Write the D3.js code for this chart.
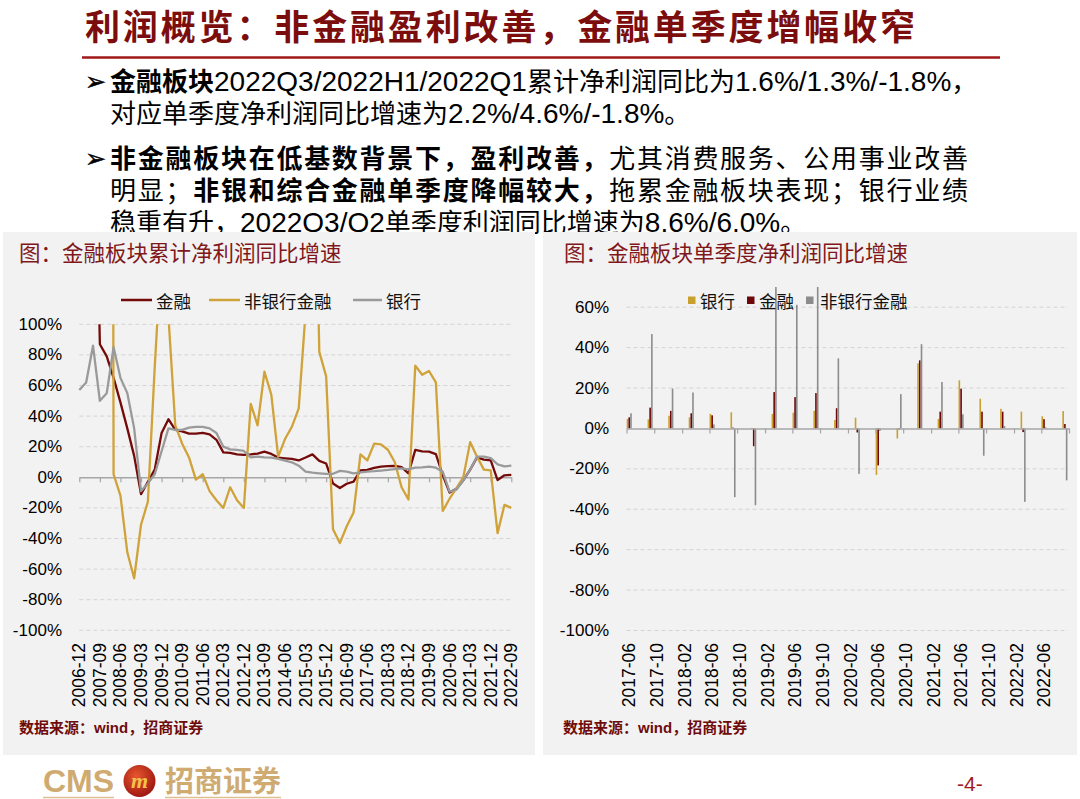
<!DOCTYPE html>
<html><head><meta charset="utf-8">
<script src="https://cdn.jsdelivr.net/npm/d3@7/dist/d3.min.js"></script>
<style>body{margin:0;background:#fff;}svg{display:block;}</style>
</head><body>
<svg id="chart" width="1080" height="799"></svg>
<script>
// ---------------- data ----------------
const headline = '利润概览：非金融盈利改善，金融单季度增幅收窄';
const leftTitle = '图：金融板块累计净利润同比增速';
const rightTitle = '图：金融板块单季度净利润同比增速';
const sourceText = '数据来源：wind，招商证券';

const quarters = ['2006-12','2007-03','2007-06','2007-09','2007-12','2008-03','2008-06','2008-09','2008-12','2009-03','2009-06','2009-09','2009-12','2010-03','2010-06','2010-09','2010-12','2011-03','2011-06','2011-09','2011-12','2012-03','2012-06','2012-09','2012-12','2013-03','2013-06','2013-09','2013-12','2014-03','2014-06','2014-09','2014-12','2015-03','2015-06','2015-09','2015-12','2016-03','2016-06','2016-09','2016-12','2017-03','2017-06','2017-09','2017-12','2018-03','2018-06','2018-09','2018-12','2019-03','2019-06','2019-09','2019-12','2020-03','2020-06','2020-09','2020-12','2021-03','2021-06','2021-09','2021-12','2022-03','2022-06','2022-09'];
const finCum = [180,220,300,87,79,65,49,32,14,-11,-3,5,29,38,31,30,28.5,28.5,29,28,24.5,16.3,16,15,14.6,15,15.5,16.8,15.3,12.9,12.4,12,11,12.9,15,10.7,9,-4,-7,-4.2,-2.8,4.5,4.8,6.2,7,7.3,7.4,6.7,2.6,17.9,17,16.8,15.2,1.5,-10,-7.5,-2,5,13,11.5,11,-1.8,1.3,1.6];
const nonbankCum = [600,900,1200,1500,2500,2,-12,-49,-66,-31,-16,72,150,105,34,22,13,-1.5,2,-9,-15,-20,-6.5,-15,-20,48,34,69,54,13.5,25,33,45,108,300,82,66,-34,-43,-32,-23,15,11,22,21.5,18,10,-6.5,-14.5,73,67,69.5,62,-22,-14,-7,0,23,13.5,5,4.5,-36.5,-18,-20];
const bankCum = [57,62,86,50,55,85,65,55,32,-9,-4,2,17,32,31,31,32.5,33,33,32,29,20,18.3,17.9,17.2,13,13.5,13,12.9,12,10.9,9.8,7.6,3.7,3,2.6,2.2,2.3,4.2,3.7,2.6,3.2,3.7,4,4.4,4.8,5.4,5.9,5.2,6.3,6.5,7,6.3,3.7,-9.4,-8,-2,5,13.5,13.5,12.5,8.5,7.2,7.6];
const leftTickLabels = ['2006-12','2007-09','2008-06','2009-03','2009-12','2010-09','2011-06','2012-03','2012-12','2013-09','2014-06','2015-03','2015-12','2016-09','2017-06','2018-03','2018-12','2019-09','2020-06','2021-03','2021-12','2022-09'];
const leftYTicks = [100,80,60,40,20,0,-20,-40,-60,-80,-100];
const leftSeriesNames = ['金融','非银行金融','银行'];

const barQuarters = ['2017-06','2017-09','2017-12','2018-03','2018-06','2018-09','2018-12','2019-03','2019-06','2019-09','2019-12','2020-03','2020-06','2020-09','2020-12','2021-03','2021-06','2021-09','2021-12','2022-03','2022-06','2022-09'];
const bankQ = [4.7,4.5,6.3,5.5,7.2,8.0,0.3,7.2,7.8,8.7,4.2,5.3,-23.0,-5.0,32.2,4.7,23.8,14.7,9.7,8.3,6.0,8.6];
const finQ = [5.5,10.3,8.7,7.5,6.5,0.4,-8.8,18.0,15.5,17.5,10.0,-2.0,-18.3,-0.5,33.7,8.3,19.7,8.3,8.3,-1.8,4.6,2.2];
const nonbankQ = [7.5,46.7,19.8,17.8,2.0,-34.0,-38.0,95,61.2,100,34.7,-22.5,-1.2,17.0,41.7,23.0,7.0,-13.5,1.2,-36.3,0.5,-25.7];
const rightTickLabels = ['2017-06','2017-10','2018-02','2018-06','2018-10','2019-02','2019-06','2019-10','2020-02','2020-06','2020-10','2021-02','2021-06','2021-10','2022-02','2022-06'];
const rightYTicks = [60,40,20,0,-20,-40,-60,-80,-100];
const rightSeriesNames = ['银行','金融','非银行金融'];

const bullets = [
  {y:81, segs:[{t:'金融板块',b:1},{t:'2022Q3/2022H1/2022Q1累计净利润同比为1.6%/1.3%/-1.8%，',b:0}], mark:true},
  {y:113, segs:[{t:'对应单季度净利润同比增速为2.2%/4.6%/-1.8%。',b:0}]},
  {y:158, segs:[{t:'非金融板块在低基数背景下，盈利改善，',b:1},{t:'尤其消费服务、公用事业改善',b:0}], mark:true, right:968},
  {y:190, segs:[{t:'明显；',b:0},{t:'非银和综合金融单季度降幅较大，',b:1},{t:'拖累金融板块表现；银行业绩',b:0}], right:968},
  {y:222, segs:[{t:'稳重有升，2022Q3/Q2单季度利润同比增速为8.6%/6.0%。',b:0}]}
];

// ---------------- styles ----------------
const CJK = "'Noto Sans CJK SC', sans-serif";
const MIX = "'Liberation Sans', 'Noto Sans CJK SC', sans-serif";
const C_RED = '#750a0a', C_GOLD = '#d0a23a', C_GREY = '#9a9a9a';
const C_BAR_GOLD = '#c99f2e', C_BAR_RED = '#6e0808', C_BAR_GREY = '#8c8c8c';
const svg = d3.select('#chart');

// headline
svg.append('text').attr('x',85).attr('y',40)
  .attr('font-family',CJK).attr('font-weight',700).attr('font-size',35)
  .attr('fill','#7b0d0d').attr('textLength',830).attr('lengthAdjust','spacing').text(headline);
svg.append('line').attr('x1',82).attr('x2',1000).attr('y1',57.5).attr('y2',57.5)
  .attr('stroke','#a01818').attr('stroke-width',2.5);

// bullet text
function runs(s){ return s.match(/[\x00-\x7F]+|[^\x00-\x7F]+/g); }
bullets.forEach(L=>{
  if(L.mark) svg.append('text').attr('x',85).attr('y',L.y+9).attr('font-family',"'DejaVu Sans'")
     .attr('font-size',25).attr('fill','#000').attr('stroke','#000').attr('stroke-width',0.5).text('➢');
  const t = svg.append('text').attr('x',110).attr('y',L.y+10).attr('font-family',MIX).attr('fill','#000');
  L.segs.forEach(s=>runs(s.t).forEach(r=>{
    const latin = /^[\x00-\x7F]+$/.test(r);
    t.append('tspan').attr('font-weight',s.b?700:400).attr('font-size',latin?28:26).text(r);
  }));
  if(L.right){
    const w = t.node().getComputedTextLength();
    const n = L.segs.map(s=>s.t).join('').length;
    t.attr('letter-spacing',(L.right-110-w)/(n-1));
  }
});

// panels
svg.append('rect').attr('x',3).attr('y',232).attr('width',532).attr('height',523).attr('fill','#f2f2f2');
svg.append('rect').attr('x',543).attr('y',232).attr('width',534).attr('height',523).attr('fill','#f2f2f2');

function panelTitle(x, s){
  svg.append('text').attr('x',x).attr('y',261).attr('font-family',CJK).attr('font-size',21.5)
    .attr('fill','#80171a').text(s);
}
panelTitle(19,leftTitle); panelTitle(564,rightTitle);
function source(x){
  svg.append('text').attr('x',x).attr('y',733).attr('font-family',MIX).attr('font-weight',700)
    .attr('font-size',15).attr('fill','#6e0b0b').text(sourceText);
}
source(19); source(563);

// ---------------- left chart ----------------
const xL = d3.scalePoint().domain(quarters).range([79.3,511.3]);
const yL = d3.scaleLinear().domain([-100,100]).range([630.3,324.3]);
const gL = svg.append('g');
gL.selectAll('line.grid').data(leftYTicks.filter(v=>v!==0)).join('line')
  .attr('x1',79.3).attr('x2',511.3).attr('y1',d=>yL(d)).attr('y2',d=>yL(d))
  .attr('stroke','#d4d4d4').attr('stroke-width',1).attr('stroke-dasharray','4,3');
gL.selectAll('text.yl').data(leftYTicks).join('text')
  .attr('x',62).attr('y',d=>yL(d)).attr('text-anchor','end').attr('dominant-baseline','central')
  .attr('font-family',MIX).attr('font-size',17).attr('fill','#000').text(d=>d+'%');
const axL = gL.append('g').attr('transform',`translate(0,${yL(0)})`)
  .call(d3.axisBottom(xL).tickValues(leftTickLabels).tickSize(5).tickSizeOuter(0).tickFormat(''));
axL.select('.domain').attr('stroke','#a6a6a6').attr('stroke-width',1.4);
axL.selectAll('.tick line').attr('stroke','#a6a6a6').attr('stroke-width',1.2);
gL.selectAll('text.xl').data(leftTickLabels).join('text')
  .attr('transform',d=>`translate(${xL(d)},643) rotate(-90)`)
  .attr('text-anchor','end').attr('dominant-baseline','central')
  .attr('font-family',MIX).attr('font-size',17.5).attr('fill','#000').text(d=>d);
svg.append('clipPath').attr('id','clipL').append('rect').attr('x',60).attr('y',324.3).attr('width',470).attr('height',320);
const lineL = d3.line().x((d,i)=>xL(quarters[i])).y(d=>yL(d));
const leftSeries = [[finCum,C_RED],[nonbankCum,C_GOLD],[bankCum,C_GREY]];
const gLines = gL.append('g').attr('clip-path','url(#clipL)');
leftSeries.forEach(([arr,c])=>{
  gLines.append('path').attr('d',lineL(arr)).attr('fill','none').attr('stroke',c)
    .attr('stroke-width',2.3).attr('stroke-linejoin','round');
});
// legend
const legL = [[121,152,156],[209,240,244],[353,382,386]];
leftSeriesNames.forEach((n,i)=>{
  const [a,b,tx] = legL[i];
  svg.append('line').attr('x1',a).attr('x2',b).attr('y1',300).attr('y2',300)
    .attr('stroke',leftSeries[i][1]).attr('stroke-width',2.5);
  svg.append('text').attr('x',tx).attr('y',300).attr('dominant-baseline','central')
    .attr('font-family',CJK).attr('font-size',17.5).attr('fill','#111').text(n);
});

// ---------------- right chart ----------------
const pm = d3.timeParse('%Y-%m');
const startR = pm('2017-06'), endR = d3.timeMonth.offset(startR,64);
const xR = d3.scaleTime().domain([startR,endR]).range([626.5,1069]);
const yR = d3.scaleLinear().domain([-100,70]).range([630.5,287]);
const inner = d3.scaleBand().domain(rightSeriesNames).range([-2.55,2.55]).paddingInner(0.08);
const gR = svg.append('g');
gR.selectAll('line.grid').data(rightYTicks.filter(v=>v!==0)).join('line')
  .attr('x1',626.5).attr('x2',1068).attr('y1',d=>yR(d)).attr('y2',d=>yR(d))
  .attr('stroke','#d4d4d4').attr('stroke-width',1).attr('stroke-dasharray','4,3');
gR.selectAll('text.yl').data(rightYTicks).join('text')
  .attr('x',609).attr('y',d=>yR(d)).attr('text-anchor','end').attr('dominant-baseline','central')
  .attr('font-family',MIX).attr('font-size',17).attr('fill','#000').text(d=>d+'%');
svg.append('clipPath').attr('id','clipR').append('rect').attr('x',600).attr('y',287).attr('width',480).attr('height',350);
const barSeries = [[bankQ,C_BAR_GOLD],[finQ,C_BAR_RED],[nonbankQ,C_BAR_GREY]];
const gBars = gR.append('g').attr('clip-path','url(#clipR)');
const center = s => xR(d3.timeDay.offset(pm(s),12));
barSeries.forEach(([arr,c],si)=>{
  gBars.selectAll(null).data(arr).join('rect')
    .attr('x',(d,i)=>center(barQuarters[i])+inner(rightSeriesNames[si]))
    .attr('width',inner.bandwidth())
    .attr('y',d=>yR(Math.max(0,d))).attr('height',d=>Math.abs(yR(d)-yR(0)))
    .attr('fill',c);
});
const tickDates = d3.range(17).map(i=>d3.timeMonth.offset(startR,4*i));
const axR = gR.append('g').attr('transform',`translate(0,${yR(0)})`)
  .call(d3.axisBottom(xR).tickValues(tickDates).tickSize(5).tickSizeOuter(0).tickFormat(''));
axR.select('.domain').attr('stroke','#a6a6a6').attr('stroke-width',1.4);
axR.selectAll('.tick line').attr('stroke','#a6a6a6').attr('stroke-width',1.2);
gR.selectAll('text.xl').data(rightTickLabels).join('text')
  .attr('transform',d=>`translate(${center(d)},643) rotate(-90)`)
  .attr('text-anchor','end').attr('dominant-baseline','central')
  .attr('font-family',MIX).attr('font-size',17.5).attr('fill','#000').text(d=>d);
// legend
const legR = [[688,700],[747,759],[806,820]];
rightSeriesNames.forEach((n,i)=>{
  const [sx,tx] = legR[i];
  svg.append('rect').attr('x',sx).attr('y',296.5).attr('width',7.5).attr('height',7.5).attr('fill',barSeries[i][1]);
  svg.append('text').attr('x',tx).attr('y',300).attr('dominant-baseline','central')
    .attr('font-family',CJK).attr('font-size',17.5).attr('fill','#111').text(n);
});

// ---------------- footer ----------------
svg.append('text').attr('x',43).attr('y',792).attr('font-family',"'Liberation Sans'").attr('font-weight',700)
  .attr('font-size',32).attr('fill','#cfab72').text('CMS');
const defs = svg.append('defs');
const rg = defs.append('radialGradient').attr('id','logoG').attr('cx','40%').attr('cy','35%').attr('r','70%');
rg.append('stop').attr('offset','0%').attr('stop-color','#e8562e');
rg.append('stop').attr('offset','100%').attr('stop-color','#9a1410');
svg.append('circle').attr('cx',139.5).attr('cy',781).attr('r',16).attr('fill','url(#logoG)');
svg.append('text').attr('x',139.5).attr('y',788).attr('text-anchor','middle').attr('font-family',"'Liberation Serif'")
  .attr('font-style','italic').attr('font-weight',700).attr('font-size',22).attr('fill','#f3c24a').text('m');
svg.append('text').attr('x',165).attr('y',792).attr('font-family',CJK).attr('font-weight',700)
  .attr('font-size',29).attr('fill','#cfab72').text('招商证券');
svg.append('line').attr('x1',43).attr('x2',114).attr('y1',797.5).attr('y2',797.5).attr('stroke','#dcc08f').attr('stroke-width',1.5);
svg.append('line').attr('x1',165).attr('x2',281).attr('y1',797.5).attr('y2',797.5).attr('stroke','#dcc08f').attr('stroke-width',1.5);
svg.append('text').attr('x',957).attr('y',791).attr('font-family',MIX).attr('font-size',21).attr('fill','#a01c1c').text('-4-');
</script>
</body></html>
